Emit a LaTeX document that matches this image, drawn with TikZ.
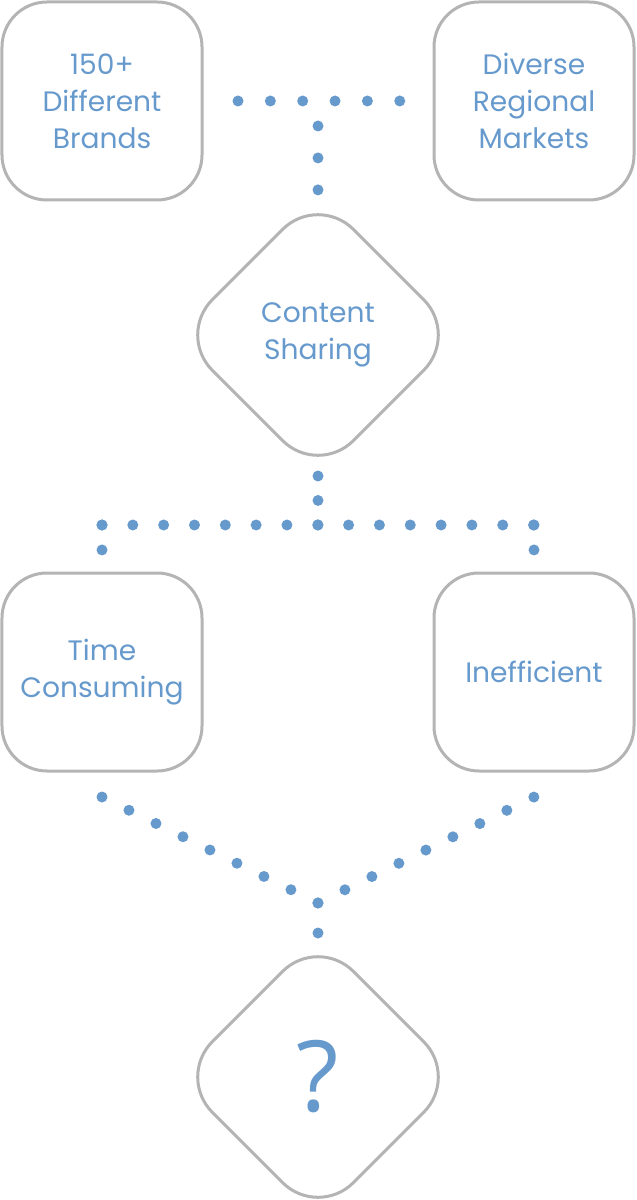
\documentclass[tikz,border=0pt]{standalone}
\usepackage{fontspec}
\setmainfont{Poppins}
\newfontfamily\markfont{Open Sans}
\usepackage{tikz}
\usetikzlibrary{shapes.geometric, calc}
\definecolor{dotblue}{RGB}{102,153,204}
\definecolor{edgegray}{RGB}{180,180,180}
\tikzstyle{choice} = [rectangle, rounded corners=0.9cm, minimum width=4cm,
minimum height=3.96cm, align=center, draw=edgegray, line width=0.06cm,
outer sep=0pt, text=dotblue, font=\fontsize{16}{21}\selectfont]
\tikzstyle{decision} = [diamond, rounded corners=1cm, minimum width=5.64cm,
minimum height=5.64cm, align=center, draw=edgegray, line width=0.06cm,
outer sep=0pt, text=dotblue, font=\fontsize{16}{21}\selectfont]
\tikzset{dotline/.style={draw=dotblue, line width=0.22cm, line cap=round,
dash pattern=on 0pt off #1}}

\begin{document}
\begin{tikzpicture}[node distance=8.64cm]
\useasboundingbox (-2.04,2.02) rectangle (10.68,-21.98);

\node(brands)[choice]{150+\\Different\\Brands};
\node(markets)[choice, right of=brands]{Diverse\\Regional\\Markets};
\node(content)[decision, below of=brands, xshift=4.32cm, yshift=3.96cm]{Content\\Sharing};
\node(time)[choice, below of=brands, yshift=-2.78cm]{Time\\Consuming};
\node(ineff)[choice, right of=time]{Inefficient};
\node(question)[decision, below of=content, yshift=-6.2cm]{\markfont\fontsize{56}{60}\selectfont ?};

% junction points
\coordinate(tee) at ($(brands.east)!0.5!(markets.west)$);
\coordinate(split) at ($(content.south)+(0,-0.98)$);
\coordinate(rowL) at (split -| time.north);
\coordinate(rowR) at (split -| ineff.north);
\coordinate(dropL) at ($(time.south)+(0,-0.52)$);
\coordinate(dropR) at ($(ineff.south)+(0,-0.52)$);
\coordinate(meet) at ($(question.north)+(0,0.66)$);

\draw[dotline=0.647cm, shorten <=0.72cm, shorten >=0.68cm](brands.east) -- (markets.west);
\draw[dotline=0.639cm, shorten <=0.5cm, shorten >=0.08cm](tee) -- (content.north);
\draw[dotline=0.489cm](content.south) -- (split);
\draw[dotline=0.6165cm](rowL) -- (rowR);
\draw[dotline=0.499cm, shorten >=0.46cm](rowL) -- (time.north);
\draw[dotline=0.499cm, shorten >=0.46cm](rowR) -- (ineff.north);
\draw[dotline=0.6013cm](dropL) -- (meet) -- (dropR);
\draw[dotline=0.6cm](meet) -- (question.north);

\end{tikzpicture}
\end{document}
